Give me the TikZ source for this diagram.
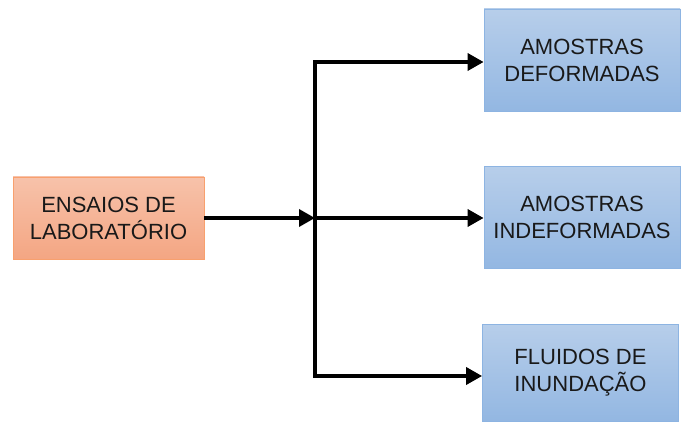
\documentclass[tikz,border=0pt]{standalone}
\usepackage{fontspec}
\setmainfont{Liberation Sans}
\usetikzlibrary{arrows.meta}
\definecolor{srctop}{RGB}{247,194,170}
\definecolor{srcbot}{RGB}{244,166,131}
\definecolor{srcline}{RGB}{248,160,110}
\definecolor{dsttop}{RGB}{183,206,234}
\definecolor{dstbot}{RGB}{147,183,226}
\definecolor{dstline}{RGB}{141,180,226}
\begin{document}
\begin{tikzpicture}[x=1pt,y=-1pt,
  box/.style={rectangle, minimum width=#1, align=center, font=\fontsize{22}{27}\selectfont, text=black!90, line width=0.8pt},
  orangebox/.style={box=191pt, minimum height=82pt, draw=srcline, top color=srctop, bottom color=srcbot},
  bluebox/.style={box=196pt, minimum height=102pt, draw=dstline, top color=dsttop, bottom color=dstbot},
  link/.style={line width=3.5pt, draw=black, line join=miter},
  tip/.style={Triangle[length=16pt,width=17pt]},
  arrowlink/.style={link, -{Triangle[length=16pt,width=17pt]}}
]
\useasboundingbox (0,0) rectangle (683,422);
\node[orangebox] (src) at (108.5,218) {ENSAIOS DE\\LABORATÓRIO};
\node[bluebox] (d1) at (582,60) {AMOSTRAS\\DEFORMADAS};
\node[bluebox] (d2) at (582,217.5) {AMOSTRAS\\INDEFORMADAS};
\node[bluebox, minimum height=97pt] (d3) at (580.5,372.5) {FLUIDOS DE\\INUNDAÇÃO};
\coordinate (top) at (315,62);
\coordinate (mid) at (315,218);
\coordinate (bot) at (315,376);
% bracket with the two outer branches
\draw[link, {Triangle[length=16pt,width=17pt]}-{Triangle[length=16pt,width=17pt]}]
  (top -| d1.west) -- (top) -- (bot) -- (bot -| d3.west);
\draw[arrowlink] (src.east) -- (mid);
\draw[arrowlink] (mid) -- (mid -| d2.west);
\end{tikzpicture}
\end{document}
